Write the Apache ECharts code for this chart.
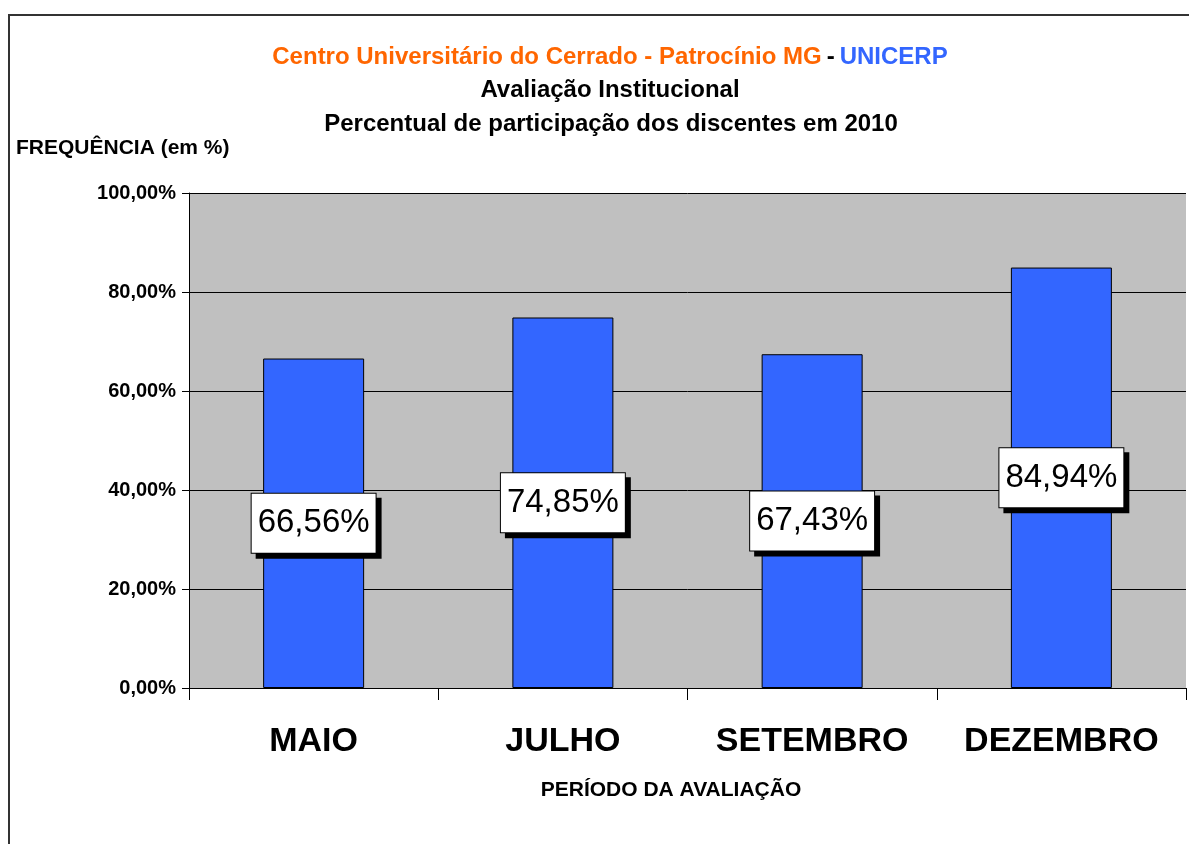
<!DOCTYPE html>
<html>
<head>
<meta charset="utf-8">
<script src="https://cdn.jsdelivr.net/npm/echarts@6/dist/echarts.min.js"></script>
<style>
  html, body { margin: 0; padding: 0; background: #fff; }
  #chart { width: 1189px; height: 844px; }
</style>
</head>
<body>
<div id="chart"></div>
<script>
// dados do gráfico
const periodos = ['MAIO', 'JULHO', 'SETEMBRO', 'DEZEMBRO']
const participacao = [66.56, 74.85, 67.43, 84.94]
const yTicks = [0, 20, 40, 60, 80, 100]

const FONT = '"Liberation Sans", Arial, sans-serif'

// formata no padrão brasileiro: 66,56%
const fmt = v => v.toFixed(2).replace('.', ',') + '%'

const chart = echarts.init(document.getElementById('chart'))

const option = {
  animation: false,
  backgroundColor: '#fff',
  textStyle: { fontFamily: FONT },
  title: [
    {
      left: 605,
      top: 40,
      textAlign: 'center',
      text: '{o|Centro Universitário do Cerrado - Patrocínio MG} {k|-} {b|UNICERP}',
      textStyle: {
        rich: {
          o: { color: '#FF6600', fontSize: 24, fontWeight: 'bold', fontFamily: FONT },
          k: { color: '#000', fontSize: 24, fontWeight: 'bold', fontFamily: FONT },
          b: { color: '#3366FF', fontSize: 24, fontWeight: 'bold', fontFamily: FONT }
        }
      }
    },
    {
      left: 605,
      top: 73,
      textAlign: 'center',
      text: 'Avaliação Institucional',
      textStyle: { color: '#000', fontSize: 24, fontWeight: 'bold', fontFamily: FONT }
    },
    {
      left: 606,
      top: 107,
      textAlign: 'center',
      text: 'Percentual de participação dos discentes em 2010',
      textStyle: { color: '#000', fontSize: 24, fontWeight: 'bold', fontFamily: FONT }
    },
    {
      left: 11,
      top: 133,
      text: 'FREQUÊNCIA (em %)',
      textStyle: { color: '#000', fontSize: 21, fontWeight: 'bold', fontFamily: FONT }
    },
    {
      left: 666,
      top: 775,
      textAlign: 'center',
      text: 'PERÍODO DA AVALIAÇÃO',
      textStyle: { color: '#000', fontSize: 21, fontWeight: 'bold', fontFamily: FONT }
    }
  ],
  graphic: [
    {
      type: 'rect',
      silent: true,
      shape: { x: 9, y: 15, width: 1400, height: 1000 },
      style: { fill: 'none', stroke: '#333', lineWidth: 2 }
    }
  ],
  grid: {
    left: 189,
    right: 3,
    top: 193,
    bottom: 156,
    show: true,
    backgroundColor: '#C0C0C0',
    borderWidth: 0
  },
  xAxis: {
    type: 'category',
    data: periodos,
    axisLine: { lineStyle: { color: '#000', width: 1 } },
    axisTick: { show: true, interval: 0, length: 12, lineStyle: { color: '#000' } },
    axisLabel: {
      interval: 0,
      margin: 37,
      color: '#000',
      fontSize: 34,
      fontWeight: 'bold',
      fontFamily: FONT
    }
  },
  yAxis: {
    type: 'value',
    min: yTicks[0],
    max: yTicks[yTicks.length - 1],
    interval: yTicks[1] - yTicks[0],
    axisLine: { show: true, lineStyle: { color: '#000', width: 1 } },
    axisTick: { show: true, length: 7, lineStyle: { color: '#000' } },
    splitLine: { show: true, lineStyle: { color: '#000', width: 1 } },
    axisLabel: {
      margin: 13,
      color: '#000',
      fontSize: 20,
      fontWeight: 'bold',
      fontFamily: FONT,
      formatter: v => fmt(v)
    }
  },
  series: [
    {
      type: 'bar',
      data: participacao,
      barWidth: 101,
      itemStyle: {
        color: '#3366FF',
        borderColor: '#000',
        borderWidth: 1
      },
      label: {
        show: true,
        position: 'inside',
        formatter: p => fmt(p.value),
        color: '#000',
        fontSize: 33,
        fontFamily: FONT,
        backgroundColor: '#fff',
        borderColor: '#000',
        borderWidth: 1,
        padding: [14, 6, 12, 6],
        shadowColor: '#000',
        shadowBlur: 0,
        shadowOffsetX: 5,
        shadowOffsetY: 5
      }
    }
  ]
}

chart.setOption(option)
</script>
</body>
</html>
